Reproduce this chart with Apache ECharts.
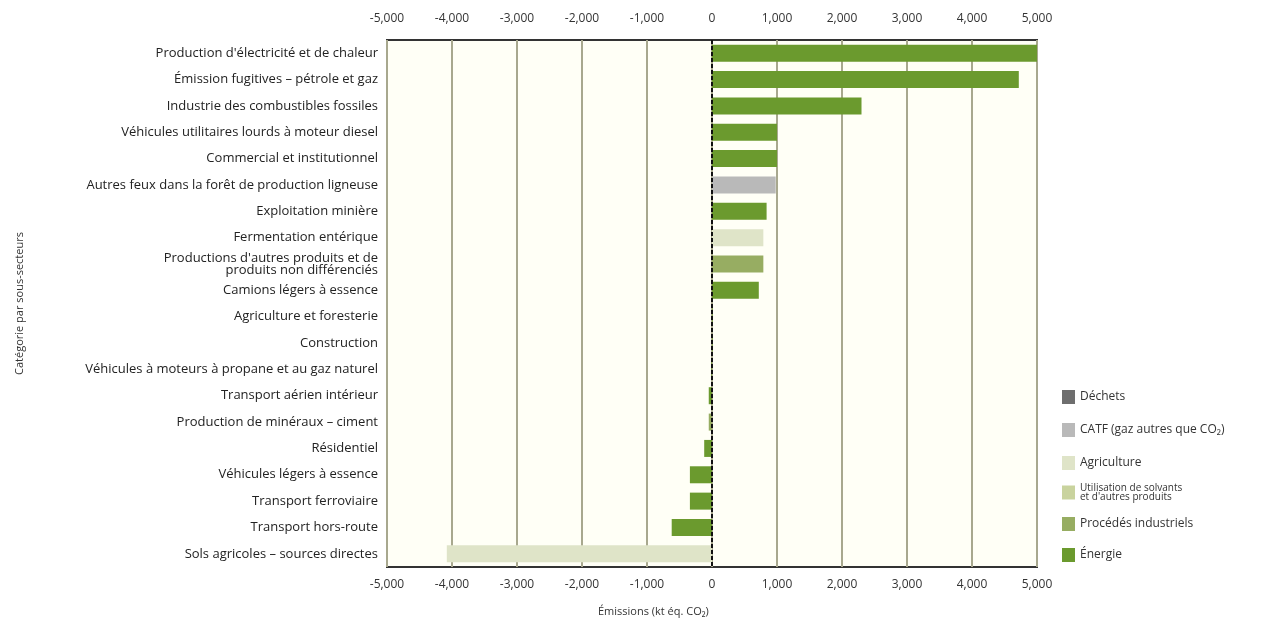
<!DOCTYPE html>
<html><head><meta charset="utf-8">
<script src="https://cdn.jsdelivr.net/npm/echarts@6/dist/echarts.min.js"></script>
<style>html,body{margin:0;padding:0;background:#fff}#c{width:1282px;height:622px}</style>
</head><body><div id="c"></div>
<script>
const categories = [
  "Production d'électricité et de chaleur",
  "Émission fugitives – pétrole et gaz",
  "Industrie des combustibles fossiles",
  "Véhicules utilitaires lourds à moteur diesel",
  "Commercial et institutionnel",
  "Autres feux dans la forêt de production ligneuse",
  "Exploitation minière",
  "Fermentation entérique",
  "Productions d'autres produits et de\nproduits non différenciés",
  "Camions légers à essence",
  "Agriculture et foresterie",
  "Construction",
  "Véhicules à moteurs à propane et au gaz naturel",
  "Transport aérien intérieur",
  "Production de minéraux – ciment",
  "Résidentiel",
  "Véhicules légers à essence",
  "Transport ferroviaire",
  "Transport hors-route",
  "Sols agricoles – sources directes"
];
const values = [5000, 4720, 2300, 1000, 1000, 980, 840, 790, 790, 720, 10, 10, -10, -50, -50, -120, -340, -340, -620, -4080];
const sectorOf = ["Énergie","Énergie","Énergie","Énergie","Énergie","CATF (gaz autres que CO₂)","Énergie","Agriculture","Procédés industriels","Énergie","Énergie","Énergie","Énergie","Énergie","Procédés industriels","Énergie","Énergie","Énergie","Énergie","Agriculture"];
const sectors = ["Déchets","CATF (gaz autres que CO₂)","Agriculture","Utilisation de solvants\net d'autres produits","Procédés industriels","Énergie"];
const tickLabels = ["-5,000","-4,000","-3,000","-2,000","-1,000","0","1,000","2,000","3,000","4,000","5,000"];

const colors = ["#6e6e6e","#b9b9b9","#dfe4c8","#c9d39e","#97ad62","#6b9a2e"];
const legendTops = [385, 418, 451, 478, 512, 543];
const FONT = "Open Sans";

const chart = echarts.init(document.getElementById('c'));
const fmt = v => tickLabels[Math.round(v/1000)+5];
const xCommon = {
  type: 'value', min: -5000, max: 5000, interval: 1000,
  axisLine: {show: false}, axisTick: {show: false}
};
const series = sectors.map((s, i) => ({
  name: s, type: 'bar', stack: 'all', barWidth: 17,
  itemStyle: {color: colors[i]},
  data: values.map((v, k) => sectorOf[k] === s ? v : null)
}));
series[series.length-1].markLine = {
  silent: true, symbol: 'none', label: {show: false},
  lineStyle: {color: '#111', type: [4, 2], width: 2},
  data: [{xAxis: 0}]
};
chart.setOption({
  animation: false,
  textStyle: {fontFamily: FONT},
  grid: {left: 387, right: 245, top: 40, bottom: 55, show: true, borderColor: '#333', borderWidth: 2, backgroundColor: '#fffff6'},
  xAxis: [
    Object.assign({position: 'top', splitLine: {show: true, lineStyle: {color: '#a8a88e', width: 2}},
      axisLabel: {formatter: fmt, color: '#333', fontFamily: FONT, fontSize: 12, margin: 15}}, xCommon),
    Object.assign({position: 'bottom', splitLine: {show: false},
      axisLabel: {formatter: fmt, color: '#333', fontFamily: FONT, fontSize: 12, margin: 12}}, xCommon)
  ],
  yAxis: {
    type: 'category', data: categories, inverse: true,
    axisLine: {show: false}, axisTick: {show: false},
    axisLabel: {color: '#222', fontSize: 13, fontFamily: FONT, margin: 9, lineHeight: 12},
    name: 'Catégorie par sous-secteurs', nameLocation: 'middle', nameGap: 362, nameRotate: 90,
    nameTextStyle: {color: '#333', fontSize: 11, fontFamily: FONT}
  },
  legend: sectors.map((s, i) => ({
    data: [s], orient: 'vertical', left: 1057, top: legendTops[i],
    itemWidth: 13, itemHeight: 14, icon: 'rect', selectedMode: false,
    textStyle: i === 3 ? {color: '#333', fontSize: 10, lineHeight: 9, fontFamily: FONT}
                       : {color: '#333', fontSize: 12, fontFamily: FONT}
  })),
  graphic: [{type: 'text', left: 598, top: 606, style: {text: 'Émissions (kt éq. CO₂)', fontSize: 11, fontFamily: FONT, fill: '#333'}}],
  series: series
});
</script></body></html>
